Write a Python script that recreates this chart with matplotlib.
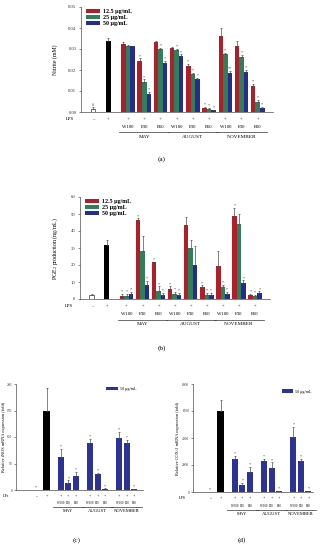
import matplotlib

matplotlib.use("Agg")
import matplotlib.pyplot as plt
import matplotlib.transforms as mtransforms
from matplotlib.patches import Patch
import numpy as np

plt.rcParams["font.family"] = ["Liberation Serif", "DejaVu Serif"]
plt.rcParams["mathtext.fontset"] = "stix"

months = ["MAY", "AUGUST", "NOVEMBER"]
samples = ["W100", "E30", "E60"]
conc_labels = ["12.5 μg/mL", "25 μg/mL", "50 μg/mL"]

# (a) nitrite (mM); sample order: MAY W100/E30/E60, AUGUST ..., NOVEMBER ...
nitrite_ctrl, nitrite_ctrl_err = 0.0015, 0.0008
nitrite_lps, nitrite_lps_err = 0.0336, 0.0015
nitrite_12 = [0.0325, 0.0245, 0.0333, 0.0305, 0.0220, 0.0020, 0.0362, 0.0316, 0.0125]
nitrite_12_err = [0.001, 0.001, 0.0003, 0.0003, 0.001, 0.0003, 0.0038, 0.002, 0.0008]
nitrite_25 = [0.0315, 0.0145, 0.0298, 0.0295, 0.0180, 0.0015, 0.0275, 0.0262, 0.0050]
nitrite_25_err = [0.0003, 0.001, 0.0008, 0.0005, 0.0008, 0.0003, 0.0005, 0.001, 0.0008]
nitrite_50 = [0.0312, 0.0087, 0.0235, 0.0265, 0.0155, 0.0008, 0.0186, 0.0192, 0.0020]
nitrite_50_err = [0.0003, 0.0008, 0.001, 0.001, 0.0008, 0.0002, 0.001, 0.001, 0.0004]
nitrite_marks = [
    ["", "*", "", "", "*", "*", "", "", "*"],
    ["", "*", "*", "*", "*", "*", "*", "*", "*"],
    ["", "*", "*", "*", "*", "*", "**", "*", "*"],
]

# (b) PGE2 (ng/mL)
pge_ctrl, pge_ctrl_err = 2.5, 0.3
pge_lps, pge_lps_err = 31.5, 3.5
pge_12 = [2.0, 46.5, 21.5, 6.0, 43.5, 7.0, 19.5, 49.0, 2.5]
pge_12_err = [1.0, 1.0, 0.5, 1.5, 4.5, 1.0, 8.5, 4.5, 0.5]
pge_25 = [2.0, 28.5, 5.0, 3.0, 30.0, 2.5, 7.0, 44.0, 2.0]
pge_25_err = [1.0, 8.5, 2.5, 1.0, 5.0, 1.0, 1.5, 6.0, 0.5]
pge_50 = [3.0, 8.0, 2.5, 2.5, 20.0, 2.5, 3.0, 9.5, 3.5]
pge_50_err = [1.0, 2.5, 1.0, 1.0, 11.0, 1.0, 1.0, 1.5, 1.0]
pge_marks = [
    ["*", "*", "*", "*", "", "*", "", "*", "*"],
    ["*", "", "*", "*", "", "*", "*", "", "*"],
    ["*", "*", "*", "*", "", "*", "*", "*", "*"],
]

# (c) iNOS mRNA (fold), 50 ug/mL
inos_ctrl, inos_lps, inos_lps_err = 0.3, 150, 42
inos_50 = [63, 13, 27, 89, 30, 2, 98, 88, 1]
inos_50_err = [15, 5, 7, 7, 2, 1, 12, 7, 0.5]

# (d) COX-2 mRNA (fold), 50 ug/mL
cox_ctrl, cox_lps, cox_lps_err = 20, 6000, 800
cox_50 = [2450, 550, 1500, 2300, 1800, 80, 4050, 2300, 60]
cox_50_err = [200, 150, 350, 150, 400, 30, 750, 150, 30]

RED, GREEN, BLUE = "#b01f29", "#2f7f5a", "#262c8e"
BLUE_CD = "#2d3296"
W, H = 324, 550


def box(left, right, top, bottom):
    return [left / W, 1 - bottom / H, (right - left) / W, (bottom - top) / H]


def below(ax, px):
    return mtransforms.offset_copy(ax.get_xaxis_transform(), fig=ax.figure, x=0, y=-px, units="dots")


def style_axis(ax, ylabel, fs, lfs, labelpad, tickpad):
    for side in ("top", "right"):
        ax.spines[side].set_visible(False)
    for side in ("left", "bottom"):
        ax.spines[side].set_linewidth(0.5)
        ax.spines[side].set_color("0.3")
    ax.tick_params(axis="y", length=1.8, width=0.4, pad=tickpad, labelsize=fs, colors="0.2")
    ax.tick_params(axis="x", length=0, labelbottom=False)
    ax.set_ylabel(ylabel, fontsize=lfs, labelpad=labelpad)


def mark(ax, x, top, s, fs):
    if s:
        ax.annotate(s, xy=(x, top), xytext=(0, 0.2), textcoords="offset points",
                    ha="center", va="bottom", fontsize=fs, color="0.25")


def bar(ax, x, v, e, color, width, edge="none"):
    ax.bar(x, v, width, color=color, edgecolor=edge, linewidth=0.5)
    if e:
        ax.errorbar(x, v, yerr=[[0], [e]], fmt="none", ecolor="0.3", elinewidth=0.5,
                    capsize=1.0, capthick=0.5)


def labels_below(ax, lps_x, ctrl_x, sample_x, groups, offs, fs, sfs, lps_text, line_pad):
    lps_off, smp_off, line_off, month_off = offs
    ax.annotate(lps_text, xy=(0, 0), xycoords="axes fraction", xytext=(-7, -lps_off),
                textcoords="offset pixels", ha="right", va="center", fontsize=fs)
    ax.text(ctrl_x, 0, "\u2013", transform=below(ax, lps_off), ha="center", va="center", fontsize=fs)
    for x in [lps_x] + list(sample_x):
        ax.text(x, 0, "+", transform=below(ax, lps_off), ha="center", va="center", fontsize=fs)
    for x, s in zip(sample_x, samples * 3):
        ax.text(x, 0, s, transform=below(ax, smp_off), ha="center", va="center", fontsize=sfs)
    for g, m in zip(groups, months):
        ax.plot([g[0] - line_pad, g[-1] + line_pad], [0, 0], transform=below(ax, line_off),
                color="0.2", lw=0.5, clip_on=False)
        ax.text((g[0] + g[-1]) / 2, 0, m, transform=below(ax, month_off), ha="center",
                va="center", fontsize=fs + 0.4)


fig = plt.figure(figsize=(W / 100, H / 100), dpi=100)

# ---- panels (a) and (b): three concentrations ----
grp_x = 2.16 + np.arange(9)
offsets3 = np.array([-0.28, 0.0, 0.28])
for spec in [
    dict(box=box(81, 273, 7, 112), ctrl=(nitrite_ctrl, nitrite_ctrl_err), lps=(nitrite_lps, nitrite_lps_err),
         series=[(nitrite_12, nitrite_12_err), (nitrite_25, nitrite_25_err), (nitrite_50, nitrite_50_err)],
         marks=nitrite_marks, ctrl_mark="#", ylim=0.05, yticks=np.arange(0, 0.051, 0.01), fmt="{:.2f}",
         ylabel="Nitrite (mM)", offs=(7, 15, 20, 25)),
    dict(box=box(80, 270, 197, 299), ctrl=(pge_ctrl, pge_ctrl_err), lps=(pge_lps, pge_lps_err),
         series=[(pge_12, pge_12_err), (pge_25, pge_25_err), (pge_50, pge_50_err)],
         marks=pge_marks, ctrl_mark="", ylim=60, yticks=np.arange(0, 61, 10), fmt="{:.0f}",
         ylabel="PGE$_2$ production (ng/mL)", offs=(7, 15, 21, 25)),
]:
    ax = fig.add_axes(spec["box"])
    bar(ax, 0, spec["ctrl"][0], spec["ctrl"][1], "white", 0.3, edge="0.2")
    mark(ax, 0, spec["ctrl"][0] + spec["ctrl"][1], spec["ctrl_mark"], 3.2)
    bar(ax, 0.93, spec["lps"][0], spec["lps"][1], "black", 0.3)
    for k, ((vals, errs), color) in enumerate(zip(spec["series"], [RED, GREEN, BLUE])):
        xs = grp_x + offsets3[k]
        for x, v, e, m in zip(xs, vals, errs, spec["marks"][k]):
            bar(ax, x, v, e, color, 0.28)
            mark(ax, x, v + e, m, 3.0)
    ax.set_xlim(-0.74, 11.1)
    ax.set_ylim(0, spec["ylim"])
    ax.set_yticks(spec["yticks"])
    ax.set_yticklabels([spec["fmt"].format(t) for t in spec["yticks"]])
    style_axis(ax, spec["ylabel"], 3.4, 4.2, 7.5, 1.5)
    handles = [Patch(facecolor=c, edgecolor="none") for c in (RED, GREEN, BLUE)]
    ax.legend(handles, conc_labels, loc="upper left", bbox_to_anchor=(0.025, 0.985), frameon=False,
              prop={"size": 4.3, "weight": "bold"}, handlelength=2.4, handleheight=0.75,
              labelspacing=0.12, handletextpad=0.5, borderpad=0, borderaxespad=0)
    labels_below(ax, 0.93, 0, grp_x, [grp_x[0:3], grp_x[3:6], grp_x[6:9]], spec["offs"], 3.4, 3.4,
                 "LPS", 0.55)

# ---- panels (c) and (d): single concentration ----
bar_x = np.array([3.3, 4.3, 5.3, 7.2, 8.2, 9.2, 11.1, 12.1, 13.1])
for spec in [
    dict(box=box(16, 143, 384, 490), ctrl=inos_ctrl, lps=(inos_lps, inos_lps_err), vals=inos_50,
         errs=inos_50_err, ylim=200, yticks=np.arange(0, 201, 50), xlim=(-2.7, 14.27),
         ylabel="Relative iNOS mRNA expression (fold)", offs=(6, 13, 17, 21), lps_text="LPs",
         legend=(0.71, 0.975), labelpad=0.6),
    dict(box=box(193, 313, 384, 492), ctrl=cox_ctrl, lps=(cox_lps, cox_lps_err), vals=cox_50,
         errs=cox_50_err, ylim=8000, yticks=np.arange(0, 8001, 2000), xlim=(-2.27, 13.7),
         ylabel="Relative COX-2 mRNA expression (fold)", offs=(6, 14, 18, 22), lps_text="LPS",
         legend=(0.74, 0.95), labelpad=1.5),
]:
    ax = fig.add_axes(spec["box"])
    bar(ax, 0, spec["ctrl"], 0, "black", 0.85)
    mark(ax, 0, spec["ctrl"], "*", 3.0)
    bar(ax, 1.4, spec["lps"][0], spec["lps"][1], "black", 0.9)
    for x, v, e in zip(bar_x, spec["vals"], spec["errs"]):
        bar(ax, x, v, e, BLUE_CD, 0.8)
        mark(ax, x, v + e, "*", 3.0)
    ax.set_xlim(*spec["xlim"])
    ax.set_ylim(0, spec["ylim"])
    ax.set_yticks(spec["yticks"])
    style_axis(ax, spec["ylabel"], 2.6, 3.2, spec["labelpad"], 0.8)
    ax.legend([Patch(facecolor=BLUE_CD, edgecolor="none")], [conc_labels[2]], loc="upper left",
              bbox_to_anchor=spec["legend"], frameon=False, prop={"size": 3.0},
              handlelength=2.8, handleheight=0.9, handletextpad=0.4, borderpad=0, borderaxespad=0)
    labels_below(ax, 1.4, 0, bar_x, [bar_x[0:3], bar_x[3:6], bar_x[6:9]], spec["offs"], 2.9, 2.2,
                 spec["lps_text"], 1.05)

for label, x, y in [("(a)", 162, 159), ("(b)", 162, 348), ("(c)", 77, 540), ("(d)", 242, 540)]:
    fig.text(x / W, 1 - y / H, label, ha="center", va="center", fontsize=5.2)

fig.savefig("out.png", dpi=100)
plt.close(fig)
